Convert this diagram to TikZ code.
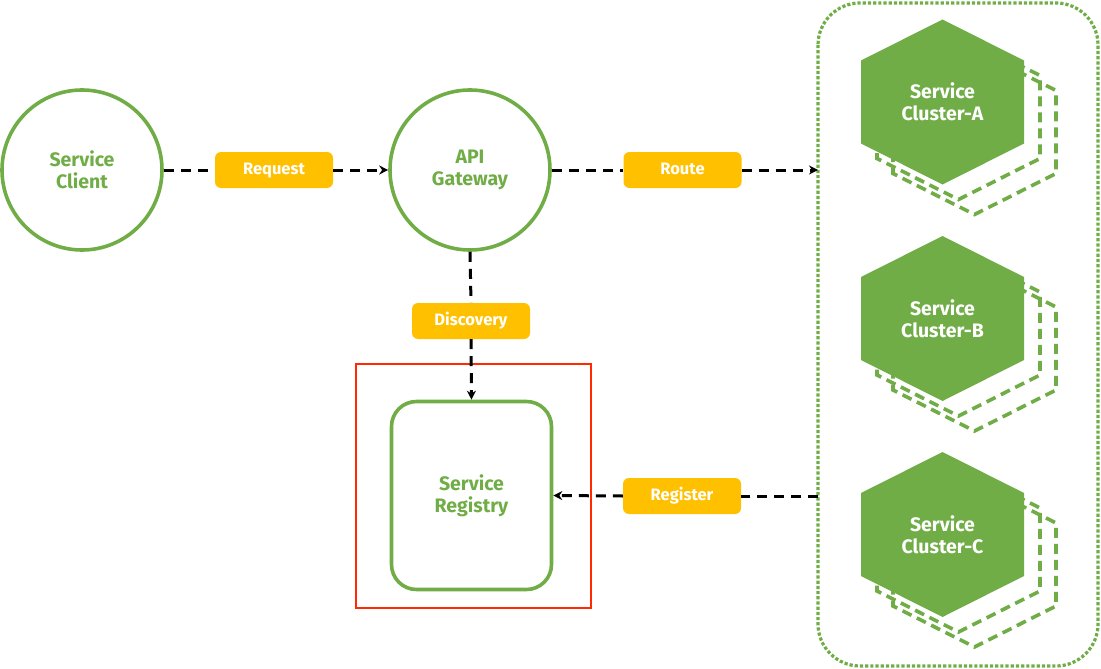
\documentclass[tikz,border=0pt]{standalone}
\usepackage{fontspec}
\setmainfont{Fira Sans}
\usetikzlibrary{arrows.meta,calc}
\definecolor{grn}{HTML}{70AD47}
\definecolor{amber}{HTML}{FFC000}
\definecolor{redbox}{HTML}{FF2A00}
\tikzset{
  circnode/.style={circle, draw=grn, line width=3.6pt, minimum size=160pt, inner sep=0pt, text=grn, font=\fontsize{19.5}{22}\selectfont\bfseries, align=center},
  tagbox/.style={fill=amber, rounded corners=6pt, minimum width=118pt, minimum height=36pt, inner sep=0pt, text height=12pt, text depth=3.5pt, text=white, font=\fontsize{16.5}{18}\selectfont\bfseries},
  flow/.style={draw=black, line width=3pt, dash pattern=on 10pt off 7pt, -{Stealth[length=9pt,width=9pt]}},
  flowline/.style={draw=black, line width=3pt, dash pattern=on 10pt off 7pt},
  hexcopy/.style={draw=grn, line width=3.6pt, dash pattern=on 10pt off 6pt},
  hexlabel/.style={text=white, font=\fontsize{19.5}{22}\selectfont\bfseries, align=center},
}
\begin{document}
\begin{tikzpicture}[x=1pt,y=-1pt]
\useasboundingbox (0,0) rectangle (1101,669);
% container
\draw[grn, line width=3.2pt, dotted, rounded corners=42pt] (818,3) rectangle (1098,666);
\coordinate (cin) at (818,170);
\coordinate (cout) at (818,496);
% hexagons
\foreach \cy/\lab/\nm in {102/A/ha, 318.5/B/hb, 534.5/C/hc}{
  \foreach \d/\e in {32/30, 16/15}{
    \draw[hexcopy] ($(942.5,\cy)+(\d,\e)$) ++(0,-82.5) -- ++(81.5,41) -- ++(0,83) -- ++(-81.5,41) -- ++(-81.5,-41) -- ++(0,-83) -- cycle;
  }
  \fill[grn] (942.5,\cy) ++(0,-82.5) -- ++(81.5,41) -- ++(0,83) -- ++(-81.5,41) -- ++(-81.5,-41) -- ++(0,-83) -- cycle;
  \node[hexlabel] (\nm) at (942.5,\cy) {Service\\Cluster-\lab};
}
% circles
\node[circnode] (client) at (82,170) {Service\\Client};
\node[circnode] (gw) at (470,170) {API\\Gateway};
% registry
\draw[redbox, line width=1.8pt] (356,364) rectangle (591,608);
\node[draw=grn, line width=3.6pt, rounded corners=25pt, minimum width=160pt, minimum height=188pt, inner sep=0pt, text=grn, font=\fontsize{19.5}{22}\selectfont\bfseries, align=center] (reg) at (471.5,495.5) {Service\\Registry};
% labels
\node[tagbox] (req) at (274,170) {Request};
\node[tagbox] (route) at (682.5,170) {Route};
\node[tagbox] (disc) at (471,321) {Discovery};
\node[tagbox] (regl) at (682,496) {Register};
% connectors
\draw[flowline] (client.east) -- (req.west);
\draw[flow] (req.east) -- (gw.west);
\draw[flowline] (gw.east) -- (route.west);
\draw[flow] (route.east) -- (cin);
\draw[flowline] (gw.south) -- (disc.north);
\draw[flow] (disc.south) -- (reg.north);
\draw[flowline] (cout) -- (regl.east);
\draw[flow] (regl.west) -- (reg.east);
\end{tikzpicture}
\end{document}
